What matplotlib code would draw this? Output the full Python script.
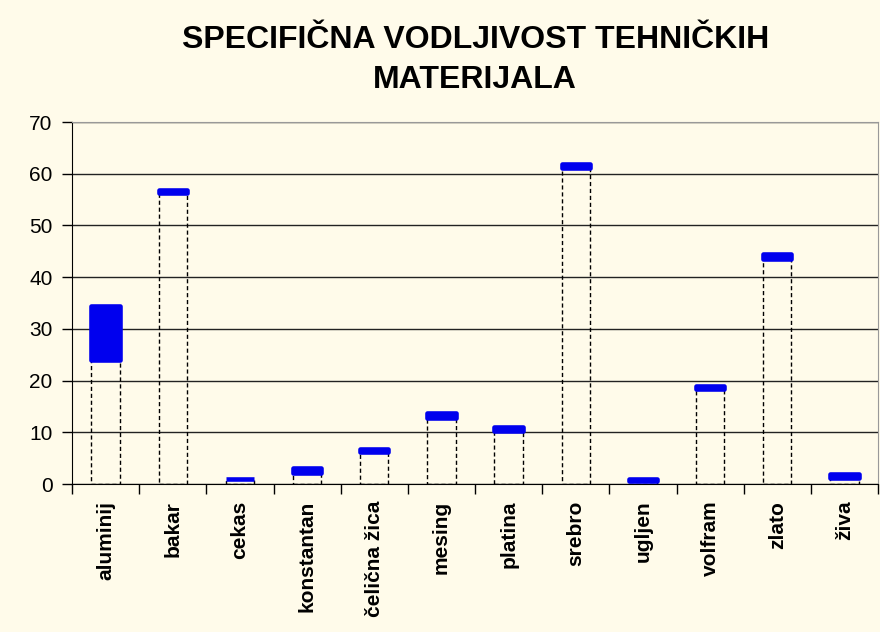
import matplotlib.pyplot as plt
import numpy as np

plt.rcParams['font.family'] = ['Liberation Sans', 'DejaVu Sans']

# vrijednosti ocitane sa slike (min i max specificne vodljivosti)
materijali = ['aluminij', 'bakar', 'cekas', 'konstantan', 'čelična žica', 'mesing',
              'platina', 'srebro', 'ugljen', 'volfram', 'zlato', 'živa']
donja = [24.0, 56.3, 0.95, 2.1, 6.1, 12.8, 10.2, 61.1, 0.5, 18.3, 43.6, 1.2]
gornja = [34.4, 56.9, 1.0, 3.1, 6.8, 13.8, 11.0, 61.9, 1.0, 18.9, 44.4, 2.0]

bg = '#FFFBEA'
fig = plt.figure(figsize=(8.8, 6.32), dpi=100, facecolor=bg)
ax = fig.add_axes([72/880, 148/632, 806/880, 362/632], facecolor=bg)

x = np.arange(len(materijali))
donja_a = np.array(donja)
gornja_a = np.array(gornja)

# prozirni donji dio s isprekidanim rubom
ax.bar(x, donja_a, width=0.42, fill=False, edgecolor='black', linewidth=1,
       linestyle=(0, (3, 2)), zorder=2)
# plavi raspon
ax.bar(x, gornja_a - donja_a, bottom=donja_a, width=0.42, color='#0000EE',
       edgecolor='#0000EE', linewidth=3.3, joinstyle='round', zorder=3)

ax.set_xlim(-0.5, len(materijali) - 0.5)
ax.set_ylim(0, 70)
ax.set_yticks(range(0, 71, 10))
ax.yaxis.grid(True, color='#222222', linewidth=1)
ax.set_axisbelow(True)

ax.set_xticks(x)
ax.set_xticklabels(materijali, rotation=90, fontsize=15, fontweight='bold')
ax.set_xticks(np.arange(-0.5, len(materijali)), minor=True)
ax.tick_params(axis='x', which='major', length=0, pad=12)
ax.tick_params(axis='x', which='minor', length=7, width=1, color='black')
ax.tick_params(axis='y', length=7, width=1, labelsize=15, pad=7)

ax.spines['left'].set_color('black')
ax.spines['bottom'].set_color('black')
ax.spines['top'].set_color('#999999')
ax.spines['right'].set_color('#999999')

fig.text(0.54, 0.905, 'SPECIFIČNA VODLJIVOST TEHNIČKIH\nMATERIJALA', ha='center', va='center',
         fontsize=23, fontweight='bold', linespacing=1.42)

fig.savefig('out.png', dpi=100, facecolor=bg)
